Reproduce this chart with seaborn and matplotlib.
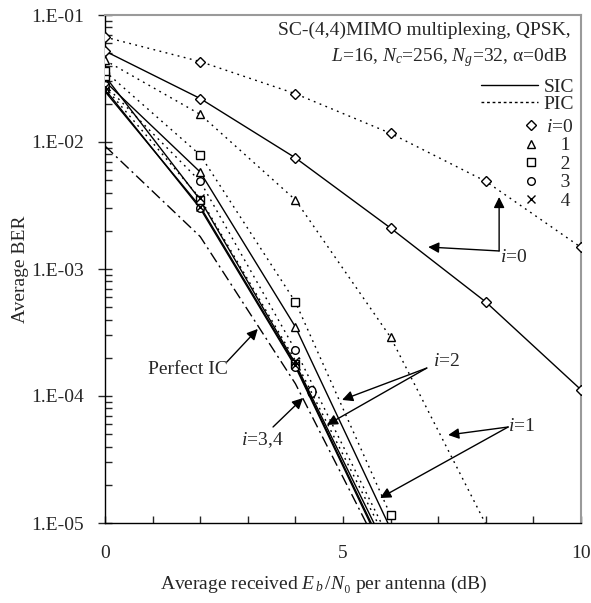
import numpy as np
import pandas as pd
import matplotlib
matplotlib.use("Agg")
import matplotlib.pyplot as plt
import seaborn as sns
from matplotlib.lines import Line2D
from matplotlib.patches import Ellipse
from matplotlib.ticker import FuncFormatter, LogLocator, NullFormatter

nan = np.nan
snr_db = [0, 2, 4, 6, 8, 10]

sic_i0 = [5.2e-2, 2.2e-2, 7.5e-3, 2.1e-3, 5.5e-4, 1.12e-4]
sic_i1 = [3.0e-2, 5.8e-3, 3.5e-4, 9.0e-6, nan, nan]
sic_i2 = [3.3e-2, 3.5e-3, 1.8e-4, 5.4e-6, nan, nan]
sic_i3 = [2.6e-2, 3.0e-3, 1.7e-4, 4.6e-6, nan, nan]
sic_i4 = [2.5e-2, 3.1e-3, 1.75e-4, 4.8e-6, nan, nan]

pic_i0 = [6.7e-2, 4.3e-2, 2.4e-2, 1.17e-2, 4.9e-3, 1.48e-3]
pic_i1 = [4.4e-2, 1.65e-2, 3.5e-3, 2.9e-4, 9.8e-6, nan]
pic_i2 = [3.6e-2, 7.9e-3, 5.5e-4, 1.15e-5, nan, nan]
pic_i3 = [2.8e-2, 4.9e-3, 2.3e-4, 7.1e-6, nan, nan]
pic_i4 = [2.7e-2, 3.6e-3, 1.9e-4, 6.3e-6, nan, nan]

perfect_ic = [9.3e-3, 1.8e-3, 1.25e-4, 4.2e-6, nan, nan]

iterations = [0, 1, 2, 3, 4]
iter_labels = ["$i$=0", "   1", "   2", "   3", "   4"]
x_tick_labels = {0: "0", 5: "5", 10: "10"}

sns.set_style("ticks")
plt.rcParams["font.family"] = ["Liberation Serif", "DejaVu Serif"]
plt.rcParams["mathtext.fontset"] = "custom"
plt.rcParams["mathtext.rm"] = "Liberation Serif"
plt.rcParams["mathtext.it"] = "Liberation Serif:italic"

rows = []
series = {("SIC", 0): sic_i0, ("SIC", 1): sic_i1, ("SIC", 2): sic_i2,
          ("SIC", 3): sic_i3, ("SIC", 4): sic_i4,
          ("PIC", 0): pic_i0, ("PIC", 1): pic_i1, ("PIC", 2): pic_i2,
          ("PIC", 3): pic_i3, ("PIC", 4): pic_i4,
          ("Perfect IC", -1): perfect_ic}
for (method, it), vals in series.items():
    for x, v in zip(snr_db, vals):
        if not np.isnan(v):
            rows.append(dict(method=method, it=it, snr=x, ber=v,
                             unit=f"{method}{it}"))
df = pd.DataFrame(rows)

fig = plt.figure(figsize=(5.91, 6.03), dpi=100)
ax = fig.add_axes([105 / 591, 1 - 523 / 603, 476 / 591, 508 / 603])

dotted = (1.3, 3.2)
dashes = {"SIC": "", "PIC": dotted, "Perfect IC": (8, 3, 1.5, 3)}
sns.lineplot(data=df, x="snr", y="ber", units="unit", estimator=None,
             style="method", dashes=dashes, color="black", linewidth=1.0,
             legend=False, ax=ax, sort=False)
ax.set_yscale("log")
ax.set_xlim(0, 10)
ax.set_ylim(1e-5, 1e-1)

markers = {0: "D", 1: "^", 2: "s", 3: "o", 4: "x"}
msizes = {0: 5.5, 1: 6, 2: 5.5, 3: 5.5, 4: 6}
ylo = 1e-5
for it in iterations:
    sub = df[(df["it"] == it) & (df["ber"] >= ylo)]
    if markers[it] == "x":
        ax.plot(sub["snr"], sub["ber"], linestyle="none", marker="x",
                color="black", ms=msizes[it], mew=1.0, zorder=4)
    else:
        ax.plot(sub["snr"], sub["ber"], linestyle="none", marker=markers[it],
                mfc="white", mec="black", ms=msizes[it], mew=1.0, zorder=4)

# axes styling
for side in ["left", "bottom"]:
    ax.spines[side].set_color("black")
    ax.spines[side].set_linewidth(1.0)
for side in ["top", "right"]:
    ax.spines[side].set_color("#9a9a9a")
    ax.spines[side].set_linewidth(1.5)

ax.set_xticks(range(0, 11))
ax.xaxis.set_major_formatter(FuncFormatter(lambda v, p: x_tick_labels.get(int(round(v)), "")))
ax.yaxis.set_major_locator(LogLocator(base=10, numticks=10))
ax.yaxis.set_minor_locator(LogLocator(base=10, subs=np.arange(2, 10), numticks=20))
ax.yaxis.set_minor_formatter(NullFormatter())
ax.yaxis.set_major_formatter(FuncFormatter(lambda v, p: f"1.E-{int(round(-np.log10(v))):02d}"))
ax.tick_params(axis="x", which="major", direction="in", length=5, width=1,
               pad=16, labelsize=14, top=False)
ax.tick_params(axis="y", which="major", direction="inout", length=10, width=1,
               pad=10, labelsize=14, right=False)
ax.tick_params(axis="y", which="minor", direction="in", length=5, width=1, right=False)

ax.set_xlabel("Average received $E_{\\,b}\\,/N$\u2080 per antenna (dB)", fontsize=14)
ax.xaxis.set_label_coords(0.46, -0.10)
ax.set_ylabel("Average BER", fontsize=14)
ax.yaxis.set_label_coords(-0.16, 0.5)

# title text
ax.text(0.978, 0.970, "SC-(4,4)MIMO multiplexing, QPSK,", transform=ax.transAxes,
        ha="right", va="center", fontsize=14)
ax.text(0.972, 0.917, "$L$=16, $N_c$=256, $N_g$=32, \u03b1=0dB", transform=ax.transAxes,
        ha="right", va="center", fontsize=14)

# legends
h_sic = Line2D([], [], color="black", lw=1.0, ls="-")
h_pic = Line2D([], [], color="black", lw=1.0, ls=(0, (2, 2)))
leg1 = ax.legend([h_sic, h_pic], ["SIC", "PIC"], loc="upper right",
                 bbox_to_anchor=(0.985, 0.876), frameon=False, handlelength=2.9,
                 handletextpad=0.3, labelspacing=0.0, borderpad=0,
                 borderaxespad=0, fontsize=14)
ax.add_artist(leg1)
mh = []
for it in iterations:
    if markers[it] == "x":
        mh.append(Line2D([], [], ls="none", marker="x", color="black", ms=msizes[it]))
    else:
        mh.append(Line2D([], [], ls="none", marker=markers[it], mfc="white",
                         mec="black", ms=msizes[it]))
ax.legend(mh, iter_labels, loc="upper right", bbox_to_anchor=(0.985, 0.797),
          frameon=False, handlelength=1.0, handletextpad=0.3, labelspacing=0.05,
          borderpad=0, borderaxespad=0, fontsize=14)

# annotations
arrow = dict(arrowstyle="-|>", color="black", lw=1.0, mutation_scale=16,
             shrinkA=0, shrinkB=0)
ax.text(8.3, 10 ** -2.906, "$i$=0", fontsize=14, ha="left", va="center")
ax.annotate("", xy=(8.28, 10 ** -2.433), xytext=(8.28, 10 ** -2.858), arrowprops=arrow)
ax.annotate("", xy=(6.79, 10 ** -2.827), xytext=(8.28, 10 ** -2.858), arrowprops=arrow)

ax.text(1.74, 10 ** -3.795, "Perfect IC", fontsize=14, ha="center", va="center")
ax.annotate("", xy=(3.21, 10 ** -3.472), xytext=(2.56, 10 ** -3.732), arrowprops=arrow)

ax.text(3.30, 10 ** -4.346, "$i$=3,4", fontsize=14, ha="center", va="center")
ax.annotate("", xy=(4.16, 10 ** -4.016), xytext=(3.53, 10 ** -4.244), arrowprops=arrow)
ax.add_patch(Ellipse(((312 - 105) / 476, (523 - 392) / 508), 8 / 476, 11 / 508,
                     transform=ax.transAxes, fill=False, ec="black", lw=1.0))

ax.text(7.18, 10 ** -3.732, "$i$=2", fontsize=14, ha="center", va="center")
ax.annotate("", xy=(4.98, 10 ** -4.031), xytext=(6.76, 10 ** -3.78), arrowprops=arrow)
ax.annotate("", xy=(4.66, 10 ** -4.228), xytext=(6.76, 10 ** -3.78), arrowprops=arrow)

ax.text(8.76, 10 ** -4.244, "$i$=1", fontsize=14, ha="center", va="center")
ax.annotate("", xy=(7.21, 10 ** -4.307), xytext=(8.47, 10 ** -4.244), arrowprops=arrow)
ax.annotate("", xy=(5.78, 10 ** -4.803), xytext=(8.47, 10 ** -4.244), arrowprops=arrow)

fig.savefig("out.png", dpi=100)
